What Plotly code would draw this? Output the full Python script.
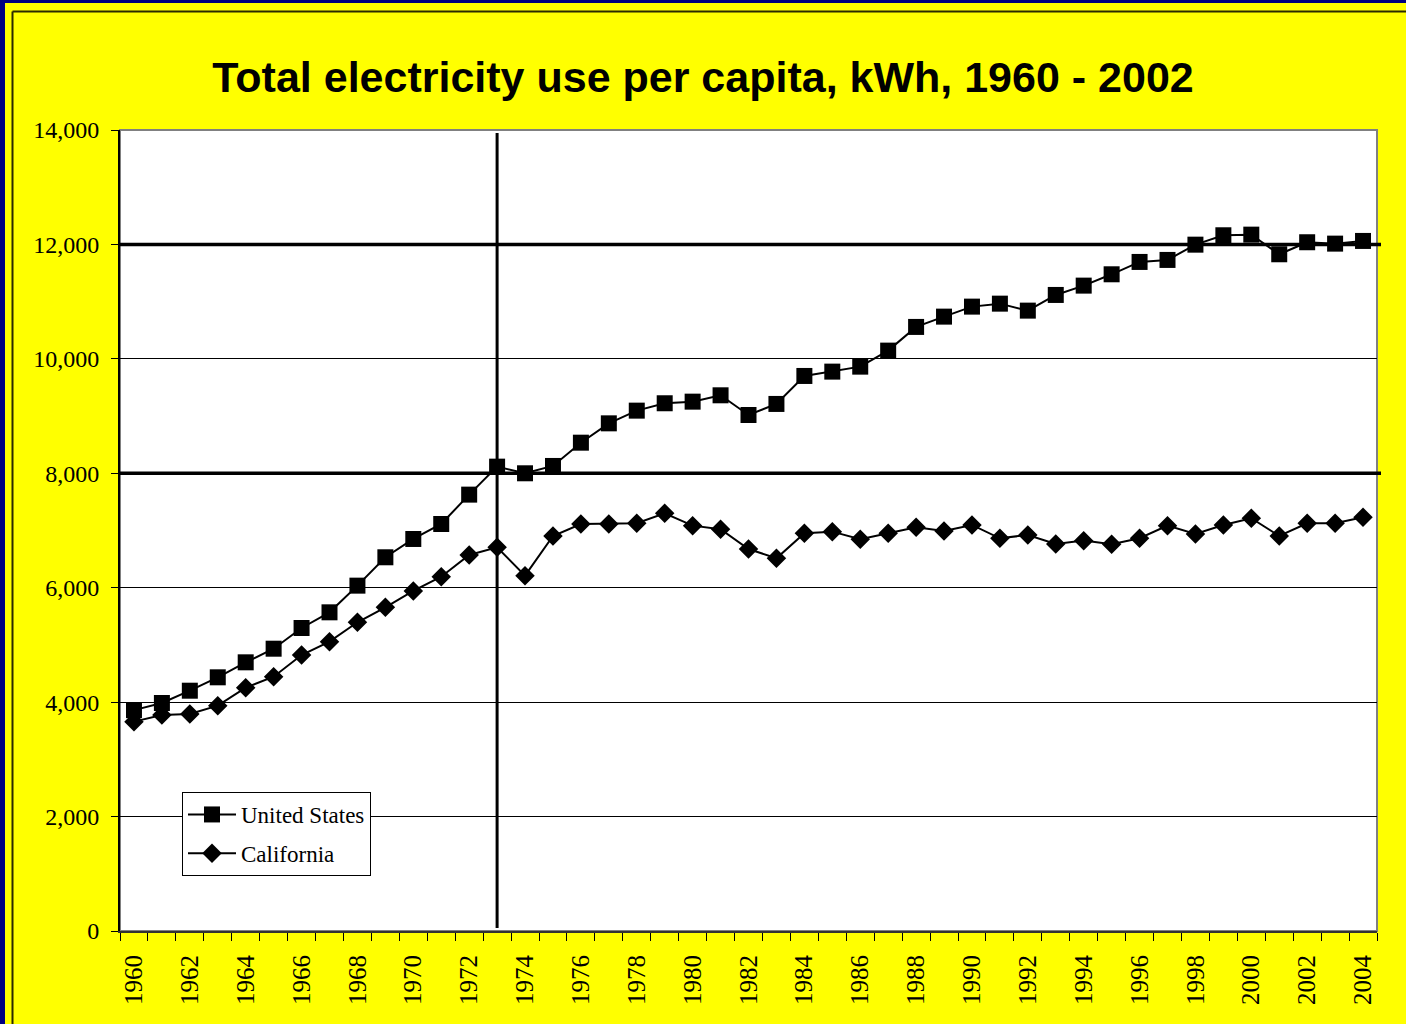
import plotly.graph_objects as go

years = list(range(1960, 2005))
us_kwh = [3860, 3985, 4200, 4434, 4696, 4934, 5296, 5570, 6036, 6532,
          6852, 7114, 7627, 8116, 8000, 8128, 8535, 8873, 9095, 9224,
          9252, 9363, 9019, 9212, 9701, 9777, 9864, 10144, 10558, 10738,
          10913, 10965, 10843, 11117, 11280, 11478, 11694, 11729, 11996, 12160,
          12171, 11828, 12038, 12014, 12061]
ca_kwh = [3659, 3776, 3793, 3939, 4253, 4445, 4824, 5057, 5396, 5658,
          5943, 6193, 6572, 6706, 6211, 6904, 7114, 7114, 7126, 7301,
          7085, 7021, 6677, 6514, 6951, 6980, 6847, 6951, 7056, 6992,
          7097, 6864, 6922, 6765, 6823, 6759, 6864, 7085, 6939, 7097,
          7214, 6904, 7126, 7126, 7231]
tick_years = list(range(1960, 2005, 2))
tick_labels = [str(y) for y in tick_years]
ref_lines = [8000, 12000]
oil_crisis_year = 1973

W, H = 1406, 1024
ML, MR, MT, MB = 120, 29, 130, 93
PW, PH = W - ML - MR, H - MT - MB


def px(x):
    return (x - ML) / PW


def py(y):
    return (H - MB - y) / PH


fig = go.Figure()
fig.add_trace(go.Scatter(
    x=years, y=us_kwh, name="United States", mode="lines+markers", legendgroup="us",
    line=dict(color="black", width=2),
    marker=dict(symbol="square", size=16, color="black", line=dict(width=0)),
))
fig.add_trace(go.Scatter(
    x=years, y=ca_kwh, name="California", mode="lines+markers", legendgroup="ca",
    line=dict(color="black", width=2),
    marker=dict(symbol="diamond", size=15, color="black", line=dict(width=0)),
))

shapes = []
shapes.append(dict(type="rect", xref="paper", yref="paper", x0=0, x1=1, y0=0, y1=1,
                   line=dict(color="#808080", width=2), layer="below"))
for v in ref_lines:
    shapes.append(dict(type="line", xref="paper", yref="y", x0=0, x1=px(1381), y0=v, y1=v,
                       line=dict(color="black", width=3.5), layer="above"))
shapes.append(dict(type="line", xref="x", yref="paper", x0=oil_crisis_year, x1=oil_crisis_year,
                   y0=py(928), y1=py(133), line=dict(color="black", width=3), layer="above"))
shapes.append(dict(type="rect", xref="paper", yref="paper", x0=px(0), x1=px(5), y0=py(1024), y1=py(0),
                   fillcolor="#000080", line=dict(width=0)))
shapes.append(dict(type="rect", xref="paper", yref="paper", x0=px(0), x1=px(1406), y0=py(3), y1=py(0),
                   fillcolor="#000080", line=dict(width=0)))
shapes.append(dict(type="line", xref="paper", yref="paper", x0=px(12.5), x1=px(12.5), y0=py(1024), y1=py(11.5),
                   line=dict(color="#2a2a00", width=2)))
shapes.append(dict(type="line", xref="paper", yref="paper", x0=px(12.5), x1=px(1406), y0=py(11.5), y1=py(11.5),
                   line=dict(color="#2a2a00", width=2)))

fig.update_layout(
    width=W, height=H,
    margin=dict(l=ML, r=MR, t=MT, b=MB, pad=0),
    paper_bgcolor="#FFFF00",
    plot_bgcolor="white",
    title=dict(text="<b>Total electricity use per capita, kWh, 1960 - 2002</b>",
               font=dict(family="Liberation Sans, Arial, sans-serif", size=43, color="black"),
               x=0.5, xref="container", xanchor="center",
               y=1 - 77 / H, yref="container", yanchor="middle"),
    shapes=shapes,
    showlegend=True,
    legend=dict(x=px(182), y=py(792), xanchor="left", yanchor="top",
                bgcolor="white", bordercolor="black", borderwidth=1,
                font=dict(family="Liberation Serif, Times New Roman, serif", size=23, color="black"),
                itemwidth=48, tracegroupgap=6),
    xaxis=dict(
        range=[1959.5, 2004.5], tickmode="array", tickvals=tick_years, ticktext=tick_labels,
        ticks="", tickangle=-90, showgrid=False, zeroline=False,
        showline=True, linecolor="#333333", linewidth=2,
        tickfont=dict(family="Liberation Serif, Times New Roman, serif", size=25, color="black"),
        ticklabelstandoff=12,
        minor=dict(tick0=1959.5, dtick=1, ticks="outside", ticklen=8, tickcolor="black", tickwidth=1,
                   showgrid=False),
    ),
    yaxis=dict(
        range=[0, 14000], dtick=2000, tickformat=",", ticks="outside", ticklen=7,
        tickcolor="black", tickwidth=1,
        showline=True, linecolor="black", linewidth=2, zeroline=False,
        showgrid=True, gridcolor="black", gridwidth=1,
        tickfont=dict(family="Liberation Serif, Times New Roman, serif", size=24, color="black"),
        ticklabelstandoff=7,
    ),
)

fig.write_html(
    "out.html",
    config={"displayModeBar": False},
    post_script="document.body.style.margin='0';document.body.style.overflow='hidden';"
                "document.documentElement.style.overflow='hidden';",
)
